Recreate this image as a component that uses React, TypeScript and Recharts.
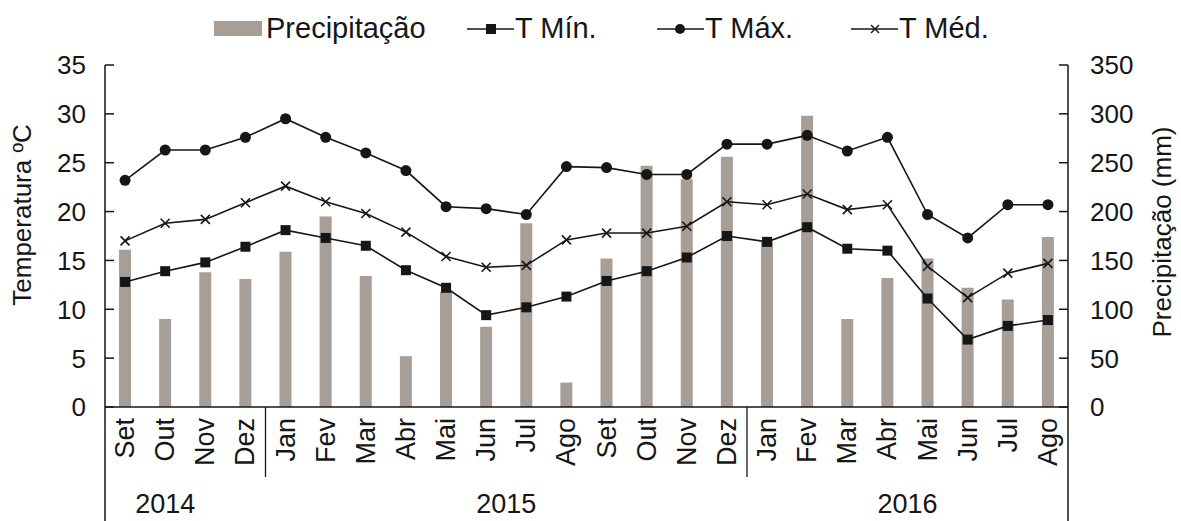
import { ComposedChart, Bar, Line, XAxis, YAxis } from 'recharts'

const months = [
  'Set', 'Out', 'Nov', 'Dez', 'Jan', 'Fev', 'Mar', 'Abr', 'Mai', 'Jun', 'Jul', 'Ago',
  'Set', 'Out', 'Nov', 'Dez', 'Jan', 'Fev', 'Mar', 'Abr', 'Mai', 'Jun', 'Jul', 'Ago',
]
// monthly rainfall, mm
const precipitacao = [161, 90, 138, 131, 159, 195, 134, 52, 118, 82, 188, 25, 152, 247, 233, 256, 169, 298, 90, 132, 152, 122, 110, 174]
// temperatures, °C
const tMin = [12.8, 13.9, 14.8, 16.4, 18.1, 17.3, 16.5, 14.0, 12.2, 9.4, 10.2, 11.3, 12.9, 13.9, 15.3, 17.5, 16.9, 18.4, 16.2, 16.0, 11.1, 6.9, 8.3, 8.9]
const tMax = [23.2, 26.3, 26.3, 27.6, 29.5, 27.6, 26.0, 24.2, 20.5, 20.3, 19.7, 24.6, 24.5, 23.8, 23.8, 26.9, 26.9, 27.8, 26.2, 27.6, 19.7, 17.3, 20.7, 20.7]
const tMed = [17.0, 18.8, 19.2, 20.9, 22.6, 21.0, 19.8, 17.9, 15.4, 14.3, 14.5, 17.1, 17.8, 17.8, 18.5, 21.0, 20.7, 21.8, 20.2, 20.7, 14.4, 11.2, 13.7, 14.7]

const tempTicks = [0, 5, 10, 15, 20, 25, 30, 35]
const precTicks = [0, 50, 100, 150, 200, 250, 300, 350]

// year captions under the month row: label, month index it hangs on, shift in bands
const years = [
  { label: '2014', index: 1, shift: 0 },
  { label: '2015', index: 10, shift: -0.5 },
  { label: '2016', index: 20, shift: -0.5 },
]
// a year starts at these month indexes
const yearBreaks = [4, 16]

const data = months.map((m, i) => ({
  name: m,
  precip: precipitacao[i],
  min: tMin[i],
  max: tMax[i],
  med: tMed[i],
}))

const W = 1181
const H = 521
const LEFT = 105
const RIGHT_W = 113
const TOP = 65
const X_H = 114
const BAND = (W - LEFT - RIGHT_W) / months.length
const FONT = '"Liberation Sans", Arial, sans-serif'
const INK = '#161616'
const BAR = '#a79e98'

function MonthTick(props: any) {
  const { x, y, payload, index } = props
  const year = years.find((yr) => yr.index === index)
  return (
    <g>
      <text
        transform={`translate(${x + 9},${y + 11}) rotate(-90)`}
        textAnchor="end"
        fontSize={27}
        fontFamily={FONT}
        fill={INK}
      >
        {payload.value}
      </text>
      {yearBreaks.includes(index) && (
        <line x1={x - BAND / 2} x2={x - BAND / 2} y1={y} y2={y + 70} stroke={INK} strokeWidth={1.3} />
      )}
      {index === 0 && <line x1={x - BAND / 2} x2={x - BAND / 2} y1={y} y2={H} stroke={INK} strokeWidth={1.5} />}
      {index === months.length - 1 && (
        <line x1={x + BAND / 2} x2={x + BAND / 2} y1={y} y2={H} stroke={INK} strokeWidth={1.5} />
      )}
      {year && (
        <text x={x + year.shift * BAND} y={y + 106} textAnchor="middle" fontSize={27} fontFamily={FONT} fill={INK}>
          {year.label}
        </text>
      )}
    </g>
  )
}

function LeftTick(props: any) {
  const { x, y, payload } = props
  return (
    <g>
      <line x1={x} x2={x + 9} y1={y} y2={y} stroke={INK} strokeWidth={1.5} />
      <text x={x - 19} y={y} dy="0.36em" textAnchor="end" fontSize={26} fontFamily={FONT} fill={INK}>
        {payload.value}
      </text>
    </g>
  )
}

function RightTick(props: any) {
  const { x, y, payload } = props
  return (
    <g>
      <line x1={x} x2={x - 9} y1={y} y2={y} stroke={INK} strokeWidth={1.5} />
      <text x={x + 22} y={y} dy="0.36em" textAnchor="start" fontSize={26} fontFamily={FONT} fill={INK}>
        {payload.value}
      </text>
    </g>
  )
}

const SquareDot = ({ cx, cy, index }: any) => (
  <rect key={`s${index}`} x={cx - 5} y={cy - 5} width={10} height={10} fill={INK} />
)
const CircleDot = ({ cx, cy, index }: any) => <circle key={`c${index}`} cx={cx} cy={cy} r={5.5} fill={INK} />
const CrossDot = ({ cx, cy, index }: any) => (
  <g key={`x${index}`} stroke={INK} strokeWidth={1.6}>
    <line x1={cx - 4.5} y1={cy - 4.5} x2={cx + 4.5} y2={cy + 4.5} />
    <line x1={cx - 4.5} y1={cy + 4.5} x2={cx + 4.5} y2={cy - 4.5} />
  </g>
)

function LegendRow() {
  const text = { fontSize: 29, fontFamily: FONT, fill: INK }
  return (
    <svg width={W} height={50} style={{ position: 'absolute', left: 0, top: 0 }}>
      <rect x={214} y={21} width={48} height={15} fill={BAR} />
      <text x={266} y={38} {...text}>Precipitação</text>

      <line x1={467} x2={514} y1={29} y2={29} stroke={INK} strokeWidth={1.6} />
      <rect x={486} y={24} width={10} height={10} fill={INK} />
      <text x={515} y={38} {...text}>T Mín.</text>

      <line x1={657} x2={704} y1={29} y2={29} stroke={INK} strokeWidth={1.6} />
      <circle cx={680} cy={29} r={5} fill={INK} />
      <text x={705} y={38} {...text}>T Máx.</text>

      <line x1={851} x2={898} y1={29} y2={29} stroke={INK} strokeWidth={1.6} />
      <g stroke={INK} strokeWidth={1.5}>
        <line x1={871} y1={25} x2={879} y2={33} />
        <line x1={871} y1={33} x2={879} y2={25} />
      </g>
      <text x={899} y={38} {...text}>T Méd.</text>
    </svg>
  )
}

export default function App() {
  return (
    <div style={{ position: 'absolute', left: 0, top: 0, width: W, height: H, background: '#fff' }}>
      <ComposedChart width={W} height={H} data={data} margin={{ top: TOP, right: 0, left: 0, bottom: 0 }}>
        <XAxis
          dataKey="name"
          height={X_H}
          interval={0}
          tickLine={false}
          tickSize={0}
          tickMargin={0}
          axisLine={{ stroke: INK, strokeWidth: 1.5 }}
          tick={MonthTick}
        />
        <YAxis
          yAxisId="t"
          width={LEFT}
          domain={[0, 35]}
          ticks={tempTicks}
          tickLine={false}
          tickSize={0}
          tickMargin={0}
          axisLine={{ stroke: INK, strokeWidth: 1.5 }}
          tick={LeftTick}
          label={{
            content: () => (
              <text transform="translate(31,215) rotate(-90)" textAnchor="middle" fontSize={26} fontFamily={FONT} fill={INK}>
                Temperatura ºC
              </text>
            ),
          }}
        />
        <YAxis
          yAxisId="p"
          orientation="right"
          width={RIGHT_W}
          domain={[0, 350]}
          ticks={precTicks}
          tickLine={false}
          tickSize={0}
          tickMargin={0}
          axisLine={{ stroke: INK, strokeWidth: 1.5 }}
          tick={RightTick}
          label={{
            content: () => (
              <text transform="translate(1171,232) rotate(-90)" textAnchor="middle" fontSize={26} fontFamily={FONT} fill={INK}>
                Precipitação (mm)
              </text>
            ),
          }}
        />
        <Bar yAxisId="p" dataKey="precip" barSize={12} fill={BAR} isAnimationActive={false} />
        <Line yAxisId="t" type="linear" dataKey="min" stroke={INK} strokeWidth={1.6} dot={SquareDot} isAnimationActive={false} />
        <Line yAxisId="t" type="linear" dataKey="max" stroke={INK} strokeWidth={1.6} dot={CircleDot} isAnimationActive={false} />
        <Line yAxisId="t" type="linear" dataKey="med" stroke={INK} strokeWidth={1.6} dot={CrossDot} isAnimationActive={false} />
      </ComposedChart>
      <LegendRow />
    </div>
  )
}
